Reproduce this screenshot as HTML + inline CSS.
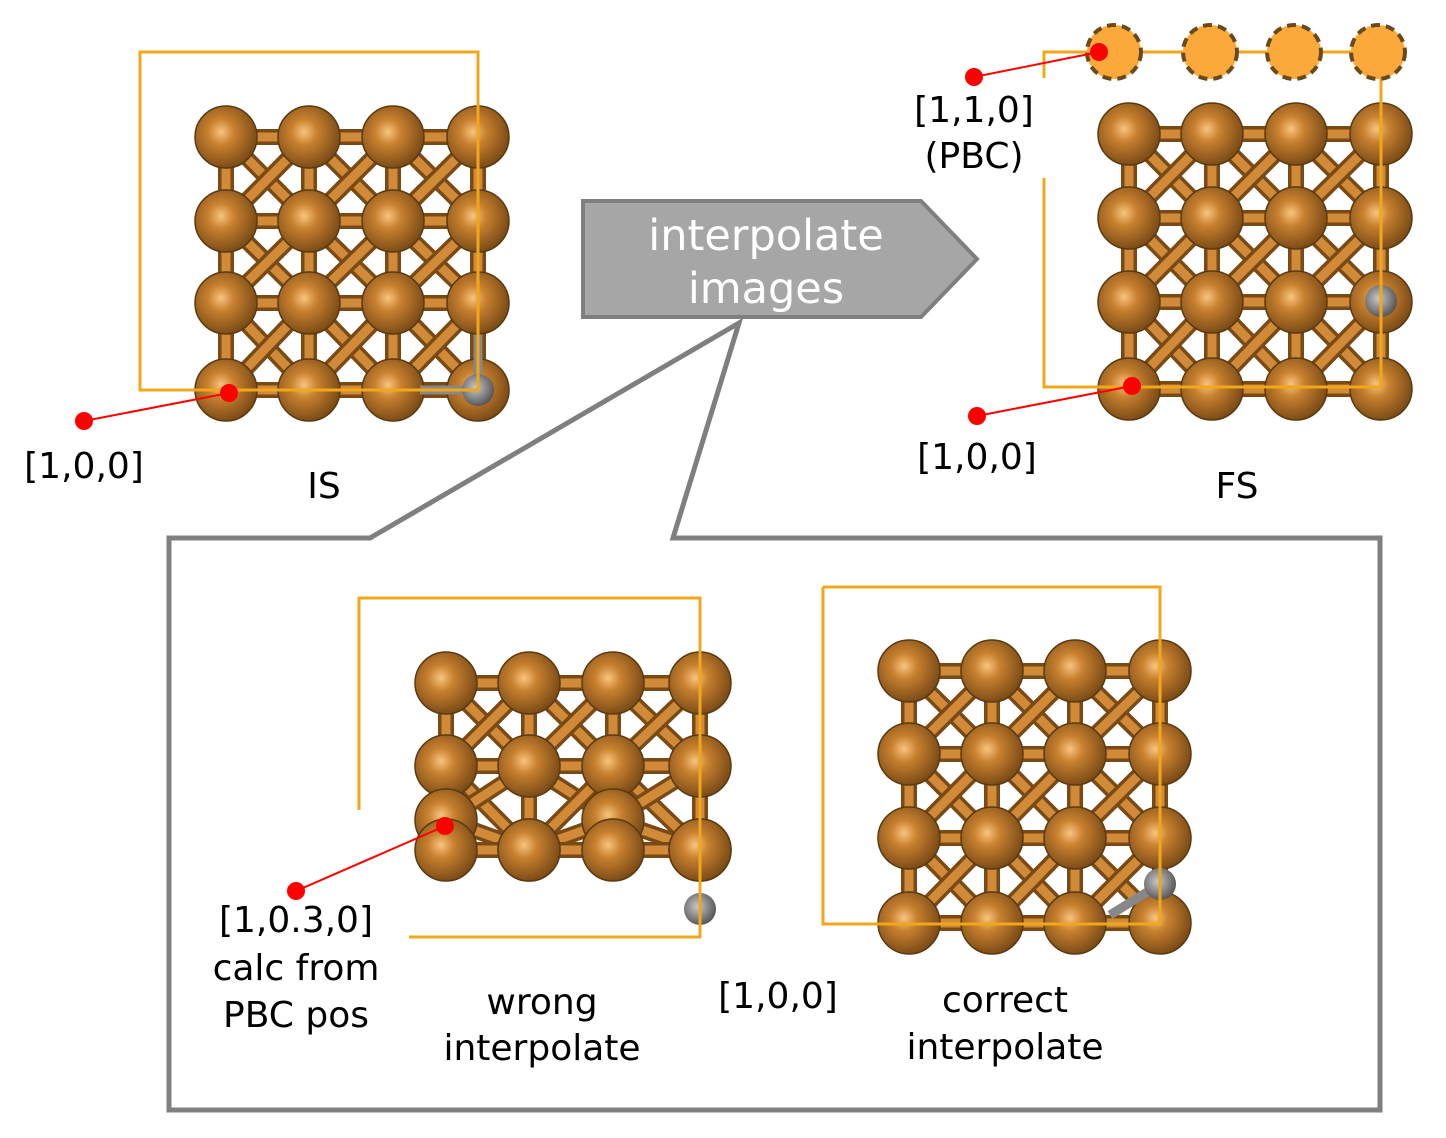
<!DOCTYPE html>
<html><head><meta charset="utf-8"><style>
body{margin:0;background:#fff;}
svg{display:block;font-family:"DejaVu Sans","Liberation Sans",sans-serif;}
</style></head><body>
<svg id="s" width="1446" height="1138" viewBox="0 0 1446 1138" xmlns="http://www.w3.org/2000/svg">
<defs>
<radialGradient id="cu" cx="0.42" cy="0.42" r="0.6">
<stop offset="0" stop-color="#f8c47e"/><stop offset="0.35" stop-color="#c8812f"/><stop offset="1" stop-color="#7a4a16"/>
</radialGradient>
<radialGradient id="h" cx="0.42" cy="0.42" r="0.6">
<stop offset="0" stop-color="#c8c8c8"/><stop offset="1" stop-color="#555"/>
</radialGradient>
</defs>
<g id="lat"></g>
<polyline points="140,60 140,52 478,52 478,390 140,390 140,60" fill="none" stroke="#f0a81a" stroke-width="3"/>
<polyline points="1044,78 1044,52 1381,52 1381,387 1044,387 1044,178" fill="none" stroke="#f0a81a" stroke-width="3"/>
<polyline points="359,810 359,598 700,598 700,937 409,937" fill="none" stroke="#f0a81a" stroke-width="3"/>
<polyline points="823,587 1160,587 1160,924 823,924 823,587" fill="none" stroke="#f0a81a" stroke-width="3"/>
<g fill="#fca93c" stroke="#6a4a1a" stroke-width="4" stroke-dasharray="9 6">
<circle cx="1114" cy="52" r="27"/><circle cx="1210" cy="52" r="27"/><circle cx="1294" cy="52" r="27"/><circle cx="1378" cy="52" r="27"/>
</g>
<g stroke="#f00" stroke-width="2"><line x1="84" y1="421" x2="229" y2="393"/><line x1="974" y1="77" x2="1099" y2="52"/><line x1="977" y1="416" x2="1132" y2="386"/><line x1="296" y1="891" x2="445" y2="826"/></g>
<g fill="#f00"><circle cx="84" cy="421" r="9"/><circle cx="229" cy="393" r="9"/><circle cx="974" cy="77" r="9"/><circle cx="1099" cy="52" r="9"/><circle cx="977" cy="416" r="9"/><circle cx="1132" cy="386" r="9"/><circle cx="296" cy="891" r="9"/><circle cx="445" cy="826" r="9"/></g>
<polygon points="583,201 921,201 977,259 921,317 583,317" fill="#a6a6a6" stroke="#7f7f7f" stroke-width="4"/>
<text x="766" y="250" font-size="43" fill="#fff" text-anchor="middle">interpolate</text>
<text x="766" y="303" font-size="43" fill="#fff" text-anchor="middle">images</text>
<polygon points="169,538 370,538 739,323 673,538 1380,538 1380,1110 169,1110" fill="none" stroke="#7f7f7f" stroke-width="5"/>
<g font-size="36" fill="#000" text-anchor="middle">
<text x="84" y="478">[1,0,0]</text>
<text x="324" y="498">IS</text>
<text x="974" y="122">[1,1,0]</text>
<text x="974" y="168">(PBC)</text>
<text x="977" y="469">[1,0,0]</text>
<text x="1237" y="498">FS</text>
<text x="296" y="932">[1,0.3,0]</text>
<text x="296" y="980">calc from</text>
<text x="296" y="1027">PBC pos</text>
<text x="542" y="1014">wrong</text>
<text x="542" y="1060">interpolate</text>
<text x="778" y="1008">[1,0,0]</text>
<text x="1005" y="1012">correct</text>
<text x="1005" y="1059">interpolate</text>
</g>
</svg>
<script>
const NS="http://www.w3.org/2000/svg",g=document.getElementById('lat');
function el(t,a){const e=document.createElementNS(NS,t);for(const k in a)e.setAttribute(k,a[k]);g.appendChild(e);return e;}
function bond(x1,y1,x2,y2){el('line',{x1,y1,x2,y2,stroke:'#7a4a16','stroke-width':16,'stroke-linecap':'round'});el('line',{x1,y1,x2,y2,stroke:'#d08a38','stroke-width':9,'stroke-linecap':'round'});}
function lattice(xs,ys){
 for(let r=0;r<ys.length;r++)for(let c=0;c<xs.length;c++){
  if(c<xs.length-1)bond(xs[c],ys[r][c],xs[c+1],ys[r][c+1]);
  if(r<ys.length-1){bond(xs[c],ys[r][c],xs[c],ys[r+1][c]);
   if(c<xs.length-1){bond(xs[c],ys[r][c],xs[c+1],ys[r+1][c+1]);bond(xs[c+1],ys[r][c+1],xs[c],ys[r+1][c]);}}
 }
 for(let r=0;r<ys.length;r++)for(let c=0;c<xs.length;c++)el('circle',{cx:xs[c],cy:ys[r][c],r:31,fill:'url(#cu)',stroke:'#5a3a10','stroke-width':1.5});
}
function rows(ys,n){return ys.map(y=>Array(n).fill(y));}
lattice([226,309,393,478],rows([137,221,303,390],4));
lattice([1129,1212,1296,1381],rows([134,218,302,389],4));
lattice([909,992,1075,1160],rows([671,754,838,923],4));
lattice([446,529,613,700],[[683,683,683,683],[766,766,766,766],[820,850,820,850],[850,850,850,850]]);
el('polyline',{points:'478,335 478,390 420,390',fill:'none',stroke:'#888','stroke-width':9});
el('circle',{cx:478,cy:390,r:16,fill:'url(#h)'});
el('circle',{cx:1381,cy:301,r:16,fill:'url(#h)'});
el('line',{x1:1160,y1:884,x2:1110,y2:915,stroke:'#888','stroke-width':9});
el('circle',{cx:1160,cy:884,r:16,fill:'url(#h)'});
el('circle',{cx:700,cy:909,r:16,fill:'url(#h)'});
</script>
</body></html>
